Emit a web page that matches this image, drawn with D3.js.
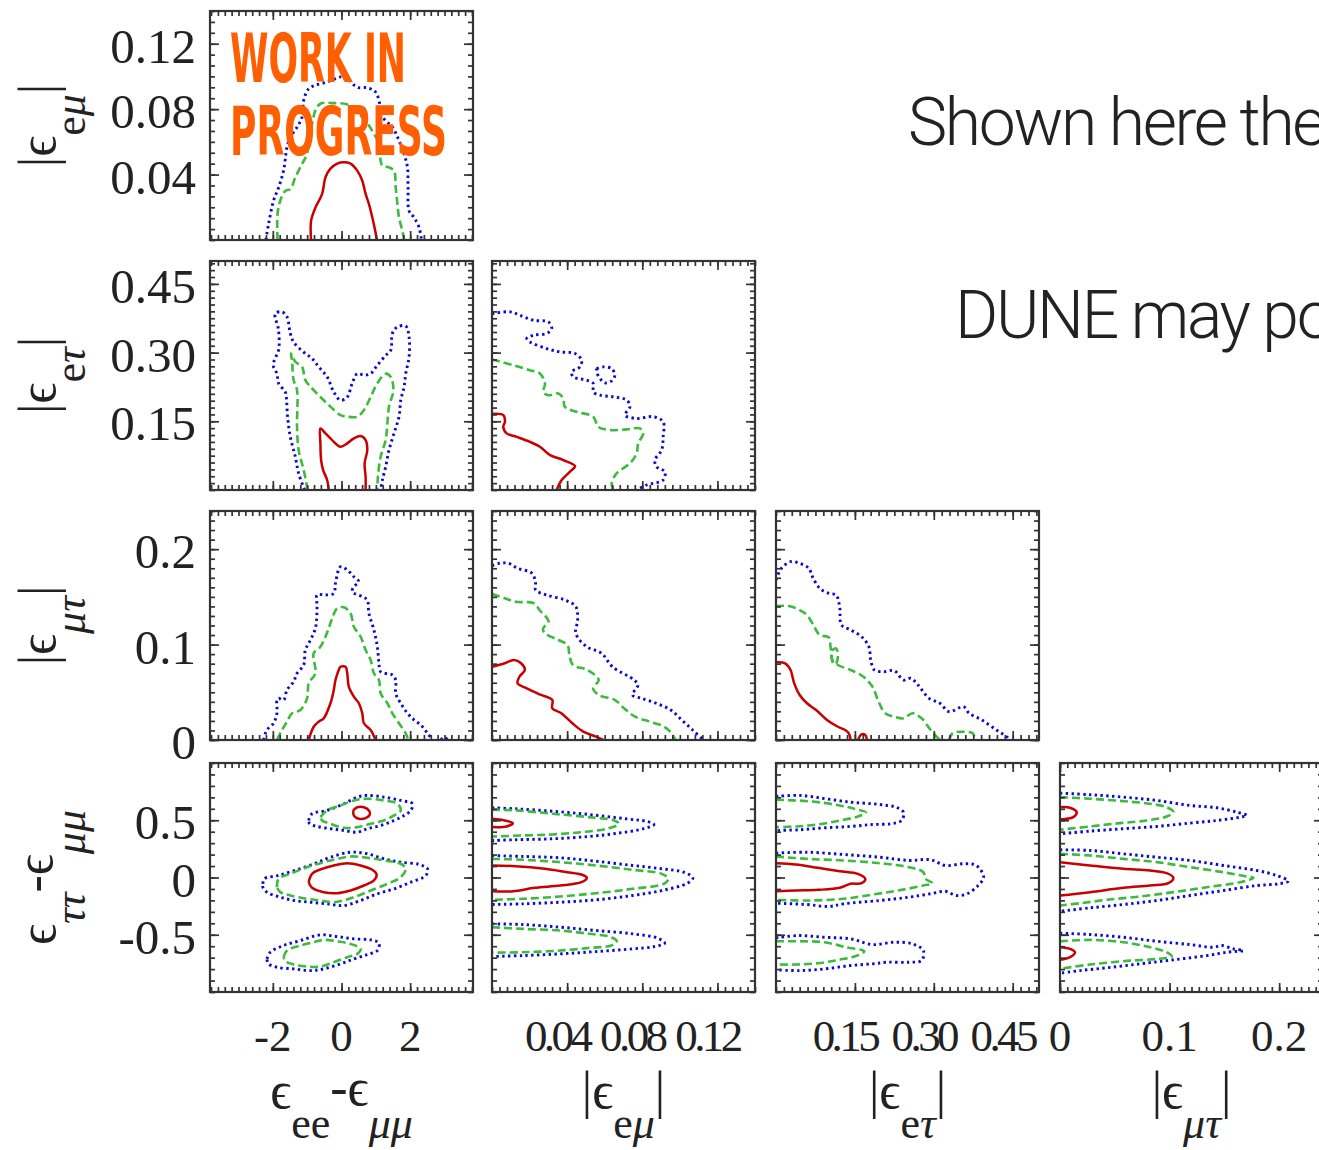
<!DOCTYPE html>
<html>
<head>
<meta charset="utf-8">
<script src="https://cdn.jsdelivr.net/npm/d3@7"></script>
<style>
body { margin: 0; background: #fff; }
svg { display: block; }
.serif { font-family: "Liberation Serif", "DejaVu Serif", serif; fill: #222; }
</style>
</head>
<body>
<script>
// Layout
var width = 1319,
    height = 1150;
var panelW = 263, panelH = 229;
var colLeft = [210, 492, 776, 1060];
var rowTop = [11, 261, 511, 763];

// Axis values
var deeDomain = [-3.83, 3.83], deeTicks = [-2, 0, 2], deeLabels = ['-2', '0', '2'];
var emuDomain = [0, 0.14], emuTicks = [0.04, 0.08, 0.12], emuLabels = ['0.04', '0.08', '0.12'];
var etauDomain = [0, 0.5], etauTicks = [0.15, 0.30, 0.45], etauLabels = ['0.15', '0.30', '0.45'];
var mutauDomain = [0, 0.24], mutauTicks = [0, 0.1, 0.2], mutauLabels = ['0', '0.1', '0.2'];
var dttDomain = [-1, 1], dttTicks = [-0.5, 0, 0.5], dttLabels = ['-0.5', '0', '0.5'];

// Contours: [x, y] in data units
// row 0: |e_emu| vs ee-mumu
var p00Red = [[-0.886,0],[-0.886,0.0117],[-0.76,0.0198],[-0.564,0.0282],[-0.468,0.0383],[-0.322,0.0436],[-0.126,0.0467],[0.067,0.0475],[0.263,0.0467],[0.459,0.0424],[0.605,0.0362],[0.702,0.0282],[0.798,0.0221],[0.898,0.0137],[1.0,0.0037],[1.03,0]];
var p00Green = [[-1.863,0],[-1.863,0.016],[-1.784,0.024],[-1.637,0.030],[-1.491,0.0311],[-1.345,0.0383],[-1.149,0.0465],[-1.003,0.0526],[-0.956,0.0608],[-0.857,0.071],[-0.76,0.0792],[-0.614,0.0833],[-0.225,0.0837],[0.167,0.0829],[0.36,0.0792],[0.556,0.0761],[0.798,0.070],[0.945,0.0649],[1.091,0.0588],[1.14,0.0485],[1.19,0.0454],[1.383,0.0444],[1.529,0.0424],[1.579,0.0321],[1.629,0.0219],[1.675,0.0137],[1.775,0.0055],[1.822,0]];
var p00Blue = [[-2.202,0],[-2.126,0.0096],[-1.98,0.024],[-1.833,0.0321],[-1.687,0.0424],[-1.588,0.0567],[-1.491,0.0628],[-1.295,0.069],[-1.149,0.0751],[-1.102,0.0853],[-0.956,0.0925],[-0.76,0.0946],[-0.418,0.0966],[-0.029,0.0997],[0.167,0.0993],[0.313,0.0956],[0.506,0.0931],[0.751,0.0931],[0.994,0.0904],[1.14,0.0812],[1.237,0.0741],[1.482,0.069],[1.675,0.0608],[1.822,0.0526],[1.921,0.0444],[1.939,0.0321],[1.968,0.0178],[2.114,0.0137],[2.26,0.0076],[2.33,0]];

// row 1: |e_etau|
var p10Red = [[-0.371,0],[-0.418,0.0218],[-0.535,0.0436],[-0.594,0.0654],[-0.614,0.1018],[-0.614,0.1345],[-0.468,0.1236],[-0.272,0.109],[-0.029,0.0944],[0.167,0.1018],[0.36,0.1127],[0.556,0.1177],[0.702,0.109],[0.751,0.0872],[0.673,0.0582],[0.702,0.029],[0.702,0]];
var p10Green = [[-0.985,0],[-1.102,0.0436],[-1.249,0.0872],[-1.295,0.138],[-1.295,0.218],[-1.395,0.24],[-1.442,0.283],[-1.471,0.298],[-1.345,0.28],[-1.149,0.269],[-1.053,0.24],[-0.857,0.222],[-0.614,0.203],[-0.322,0.182],[-0.029,0.1635],[0.167,0.16],[0.459,0.16],[0.652,0.1744],[0.848,0.203],[1.044,0.233],[1.287,0.254],[1.433,0.247],[1.512,0.218],[1.383,0.182],[1.336,0.145],[1.287,0.109],[1.14,0.0726],[1.061,0.029],[1.044,0]];
var p10Blue = [[-1.073,0],[-1.249,0.0364],[-1.345,0.0726],[-1.491,0.116],[-1.57,0.16],[-1.608,0.203],[-1.637,0.214],[-1.833,0.233],[-1.88,0.254],[-1.98,0.269],[-1.959,0.283],[-1.833,0.305],[-1.833,0.349],[-1.93,0.385],[-1.734,0.389],[-1.588,0.378],[-1.491,0.342],[-1.395,0.323],[-1.102,0.301],[-0.857,0.287],[-0.664,0.269],[-0.418,0.247],[-0.225,0.214],[-0.029,0.196],[0.167,0.203],[0.313,0.233],[0.459,0.254],[0.652,0.251],[0.848,0.254],[1.044,0.2725],[1.287,0.294],[1.433,0.305],[1.482,0.342],[1.629,0.356],[1.871,0.358],[1.968,0.334],[1.968,0.291],[1.871,0.254],[1.822,0.225],[1.725,0.196],[1.675,0.16],[1.529,0.1236],[1.383,0.0872],[1.287,0.0508],[1.19,0.0218],[1.14,0]];
var p11Red = [[0,0.166],[0.006,0.1635],[0.0069,0.149],[0.006,0.138],[0.0078,0.1236],[0.0131,0.116],[0.0202,0.105],[0.0255,0.0944],[0.0309,0.0763],[0.0379,0.0654],[0.0442,0.0523],[0.0415,0.0399],[0.0371,0.0218],[0.0344,0]];
var p11Green = [[0,0.285],[0.0113,0.2725],[0.0202,0.2616],[0.0255,0.2544],[0.0282,0.2326],[0.0273,0.2143],[0.03,0.207],[0.0353,0.2108],[0.0379,0.2],[0.0388,0.1816],[0.0451,0.1707],[0.0539,0.16],[0.0566,0.138],[0.0628,0.131],[0.0717,0.1323],[0.0787,0.1345],[0.0805,0.1236],[0.0778,0.1018],[0.077,0.08],[0.0734,0.0582],[0.0663,0.0364],[0.0637,0.0146],[0.0645,0]];
var p11Blue = [[0,0.385],[0.0096,0.389],[0.0149,0.3815],[0.022,0.3706],[0.03,0.367],[0.0318,0.3525],[0.0291,0.3416],[0.022,0.338],[0.0185,0.3307],[0.0202,0.3233],[0.0291,0.3089],[0.0362,0.3015],[0.0442,0.298],[0.0477,0.2834],[0.0468,0.2688],[0.0424,0.2579],[0.0433,0.247],[0.0504,0.2398],[0.0539,0.2326],[0.0539,0.2143],[0.0575,0.207],[0.0645,0.2034],[0.0717,0.1962],[0.0734,0.1816],[0.0708,0.1635],[0.077,0.1563],[0.0858,0.16],[0.0911,0.149],[0.0911,0.1162],[0.0903,0.0872],[0.0867,0.0654],[0.0876,0.0508],[0.092,0.0399],[0.0911,0.0218],[0.0823,0.0109],[0.077,0]];
var p11BlueIsland = [[0.0557,0.265],[0.0592,0.2688],[0.0637,0.265],[0.0654,0.2507],[0.0637,0.2383],[0.0601,0.2339],[0.0575,0.2435],[0.0557,0.2579],[0.0557,0.265]];

// row 2: |e_mutau|
var p20Red = [[-0.956,0],[-0.81,0.0139],[-0.664,0.0192],[-0.518,0.0227],[-0.322,0.0385],[-0.225,0.0524],[-0.175,0.0629],[-0.079,0.0734],[-0.029,0.0768],[0.117,0.0768],[0.167,0.0699],[0.213,0.0559],[0.36,0.0454],[0.506,0.0385],[0.605,0.028],[0.652,0.0175],[0.848,0.0105],[0.994,0]];
var p20Green = [[-1.88,0],[-1.734,0.0105],[-1.588,0.0192],[-1.442,0.028],[-1.199,0.0314],[-1.003,0.0437],[-0.956,0.0594],[-0.76,0.0699],[-0.81,0.0909],[-0.614,0.0978],[-0.468,0.1083],[-0.371,0.1171],[-0.272,0.1275],[-0.126,0.138],[0.067,0.1391],[0.263,0.1328],[0.36,0.1187],[0.556,0.1083],[0.702,0.0943],[0.848,0.0838],[0.944,0.0699],[1.091,0.0629],[1.14,0.0489],[1.336,0.0385],[1.482,0.028],[1.675,0.0175],[1.871,0.007],[1.939,0]];
var p20Blue = [[-2.272,0],[-2.173,0.0105],[-1.98,0.0175],[-1.88,0.028],[-1.88,0.0419],[-1.833,0.0437],[-1.687,0.0419],[-1.588,0.0524],[-1.395,0.0611],[-1.295,0.0699],[-1.102,0.0786],[-1.053,0.0943],[-0.906,0.1048],[-0.76,0.1171],[-0.711,0.1397],[-0.711,0.152],[-0.468,0.152],[-0.225,0.1537],[-0.175,0.1642],[-0.029,0.1816],[0.167,0.1782],[0.36,0.1711],[0.506,0.1659],[0.36,0.1607],[0.313,0.1554],[0.605,0.1502],[0.751,0.1467],[0.798,0.1328],[0.944,0.1153],[1.044,0.0978],[1.091,0.0804],[1.14,0.0716],[1.482,0.0681],[1.579,0.0629],[1.579,0.0489],[1.725,0.0385],[1.921,0.028],[2.114,0.021],[2.31,0.0157],[2.506,0.007],[2.652,0]];
var p20BlueTail = [[2.895,0],[2.991,0.003],[3.09,0]];
var p21Red = [[0,0.0768],[0.0068,0.0804],[0.0116,0.0838],[0.0155,0.0804],[0.0175,0.0734],[0.0146,0.0663],[0.0136,0.0594],[0.0185,0.0542],[0.0262,0.0472],[0.0321,0.0419],[0.0321,0.0332],[0.0369,0.028],[0.0428,0.0175],[0.0486,0.0087],[0.0554,0.0035],[0.0593,0]];
var p21Green = [[0,0.153],[0.0068,0.1485],[0.0126,0.1449],[0.0223,0.1433],[0.0253,0.1362],[0.0301,0.124],[0.0272,0.117],[0.0281,0.1118],[0.0354,0.1048],[0.0402,0.0996],[0.0412,0.0891],[0.0431,0.0786],[0.0509,0.0734],[0.0568,0.0629],[0.0538,0.0542],[0.0568,0.0472],[0.0655,0.0419],[0.0703,0.0332],[0.0762,0.0244],[0.084,0.0192],[0.0917,0.0139],[0.0956,0.007],[0.0976,0]];
var p21Blue = [[0,0.1827],[0.0039,0.1852],[0.0087,0.1852],[0.0135,0.18],[0.0213,0.1747],[0.0232,0.1642],[0.0232,0.1572],[0.029,0.152],[0.0388,0.1467],[0.0446,0.1397],[0.0456,0.1258],[0.0446,0.1118],[0.0504,0.0978],[0.0583,0.0909],[0.0641,0.0768],[0.0757,0.0629],[0.0777,0.0576],[0.0747,0.0472],[0.0796,0.0437],[0.0874,0.0385],[0.0952,0.0314],[0.101,0.021],[0.1068,0.0105],[0.1126,0]];
var p22Red = [[0,0.0814],[0.0173,0.0804],[0.0277,0.0734],[0.0346,0.0594],[0.045,0.0472],[0.0589,0.0385],[0.0762,0.0314],[0.0969,0.021],[0.1176,0.0139],[0.1315,0.0105],[0.1385,0.007],[0.1419,0]];
var p22RedTail = [[0.1558,0],[0.1626,0.006],[0.1697,0.0052],[0.1731,0]];
var p22Green = [[0,0.1404],[0.0243,0.1404],[0.045,0.1362],[0.0589,0.131],[0.0728,0.1187],[0.083,0.11],[0.1003,0.1076],[0.1037,0.0978],[0.1072,0.0838],[0.1176,0.0786],[0.1419,0.0734],[0.1661,0.0663],[0.1834,0.0559],[0.1938,0.0419],[0.2077,0.028],[0.225,0.0244],[0.2423,0.0227],[0.2595,0.028],[0.2768,0.0227],[0.2941,0.0105],[0.3116,0]];
var p22GreenIsland = [[0.1072,0.0943],[0.1142,0.0961],[0.1176,0.0873],[0.1142,0.0804],[0.1093,0.0796],[0.1058,0.0873],[0.1072,0.0943]];
var p22GreenTail = [[0.3289,0],[0.3357,0.007],[0.3566,0.0087],[0.3739,0.007],[0.3787,0]];
var p22Blue = [[0,0.1677],[0.0105,0.18],[0.0277,0.1869],[0.045,0.1852],[0.0623,0.18],[0.0694,0.1711],[0.083,0.159],[0.1003,0.1537],[0.1142,0.152],[0.121,0.1397],[0.1246,0.1205],[0.1419,0.1153],[0.1626,0.1083],[0.1765,0.0978],[0.1801,0.0838],[0.187,0.0734],[0.2043,0.0716],[0.225,0.0726],[0.2423,0.0629],[0.2561,0.0647],[0.27,0.0576],[0.2909,0.0437],[0.3116,0.0385],[0.3289,0.0297],[0.3566,0.0349],[0.3671,0.028],[0.3912,0.021],[0.419,0.0105],[0.4397,0.0028],[0.4431,0]];

// row 3: e_tautau - e_mumu (three separate islands)
var p30RedTop = [[0.342,0.586],[0.459,0.614],[0.652,0.614],[0.798,0.586],[0.827,0.551],[0.702,0.518],[0.506,0.513],[0.36,0.541],[0.342,0.586]];
var p30RedMid = [[-0.956,-0.041],[-0.857,0.032],[-0.564,0.076],[-0.225,0.105],[0.167,0.125],[0.556,0.105],[0.898,0.067],[1.023,0.026],[0.944,-0.026],[0.652,-0.07],[0.263,-0.114],[-0.126,-0.137],[-0.518,-0.128],[-0.857,-0.09],[-0.956,-0.041]];
var p30GreenTop = [[-0.614,0.527],[-0.418,0.586],[-0.029,0.629],[0.36,0.673],[0.751,0.688],[1.237,0.673],[1.629,0.644],[1.725,0.586],[1.529,0.542],[1.237,0.498],[0.848,0.469],[0.459,0.44],[0.067,0.434],[-0.322,0.469],[-0.564,0.498],[-0.614,0.527]];
var p30GreenMid = [[-1.88,-0.085],[-1.833,-0.011],[-1.491,0.032],[-1.003,0.09],[-0.518,0.134],[-0.126,0.163],[0.263,0.184],[0.751,0.172],[1.237,0.149],[1.725,0.12],[1.871,0.076],[1.725,0.003],[1.336,-0.055],[0.848,-0.114],[0.36,-0.172],[-0.225,-0.216],[-0.614,-0.201],[-1.003,-0.186],[-1.491,-0.157],[-1.784,-0.128],[-1.88,-0.085]];
var p30GreenLow = [[-1.687,-0.696],[-1.588,-0.638],[-1.199,-0.594],[-0.81,-0.565],[-0.518,-0.545],[-0.126,-0.557],[0.263,-0.58],[0.556,-0.623],[0.459,-0.667],[0.167,-0.696],[-0.225,-0.74],[-0.614,-0.778],[-1.003,-0.778],[-1.395,-0.76],[-1.637,-0.731],[-1.687,-0.696]];
var p30BlueTop = [[-0.956,0.498],[-0.857,0.557],[-0.418,0.586],[0.067,0.644],[0.459,0.702],[0.751,0.717],[1.237,0.702],[1.725,0.673],[2.067,0.644],[2.018,0.586],[1.822,0.542],[1.529,0.498],[1.14,0.454],[0.751,0.426],[0.459,0.396],[0.067,0.411],[-0.322,0.426],[-0.711,0.446],[-0.927,0.469],[-0.956,0.498]];
var p30BlueMid = [[-2.29,-0.055],[-2.243,-0.011],[-1.86,0.017],[-1.374,0.061],[-0.79,0.12],[-0.322,0.177],[0.263,0.221],[0.751,0.207],[1.237,0.163],[1.725,0.134],[2.26,0.114],[2.506,0.076],[2.456,0.017],[2.018,-0.041],[1.529,-0.099],[1.044,-0.142],[0.556,-0.201],[0.067,-0.245],[-0.418,-0.23],[-0.906,-0.216],[-1.374,-0.201],[-1.784,-0.172],[-2.173,-0.128],[-2.29,-0.085],[-2.29,-0.055]];
var p30BlueLow = [[-2.173,-0.711],[-2.076,-0.653],[-1.687,-0.594],[-1.199,-0.551],[-0.614,-0.501],[-0.126,-0.516],[0.36,-0.536],[0.848,-0.545],[1.091,-0.574],[1.044,-0.638],[0.751,-0.673],[0.36,-0.711],[-0.029,-0.754],[-0.518,-0.798],[-0.906,-0.813],[-1.395,-0.798],[-1.88,-0.784],[-2.126,-0.754],[-2.173,-0.711]];
var p31RedTop = [[0,0.513],[0.0068,0.498],[0.0111,0.475],[0.0078,0.446],[0,0.44]];
var p31RedMid = [[0,0.105],[0.0126,0.099],[0.0282,0.076],[0.04,0.046],[0.0476,0.026],[0.0505,-0.003],[0.0476,-0.041],[0.0363,-0.07],[0.0227,-0.09],[0.0112,-0.12],[0,-0.12]];
var p31GreenTop = [[0,0.592],[0.0126,0.586],[0.0321,0.557],[0.0515,0.527],[0.0651,0.498],[0.0675,0.469],[0.0613,0.426],[0.0476,0.396],[0.0321,0.376],[0.0165,0.367],[0,0.358]];
var p31GreenMid = [[0,0.163],[0.0165,0.155],[0.0363,0.134],[0.0554,0.105],[0.0749,0.067],[0.0904,0.032],[0.0939,-0.011],[0.0914,-0.055],[0.0749,-0.099],[0.0554,-0.137],[0.0363,-0.166],[0.0165,-0.186],[0,-0.195]];
var p31GreenLow = [[0,-0.434],[0.0165,-0.449],[0.0363,-0.463],[0.0518,-0.492],[0.0635,-0.521],[0.0664,-0.557],[0.0635,-0.594],[0.0518,-0.615],[0.0363,-0.638],[0.0165,-0.653],[0,-0.656]];
var p31BlueTop = [[0,0.609],[0.0126,0.6],[0.0321,0.579],[0.0515,0.551],[0.071,0.513],[0.0826,0.489],[0.0862,0.463],[0.0807,0.426],[0.067,0.387],[0.0515,0.358],[0.0321,0.338],[0.0126,0.33],[0,0.323]];
var p31BlueMid = [[0,0.192],[0.0165,0.184],[0.0363,0.172],[0.0554,0.142],[0.0749,0.105],[0.0904,0.076],[0.102,0.046],[0.1069,-0.003],[0.104,-0.05],[0.0904,-0.114],[0.0749,-0.157],[0.0554,-0.195],[0.0363,-0.216],[0.0165,-0.23],[0,-0.236]];
var p31BlueLow = [[0,-0.405],[0.0165,-0.411],[0.0363,-0.434],[0.0554,-0.463],[0.0749,-0.492],[0.0884,-0.531],[0.0919,-0.574],[0.0864,-0.603],[0.0749,-0.623],[0.0554,-0.647],[0.0363,-0.667],[0.0165,-0.682],[0,-0.69]];
var p32RedMid = [[0,0.125],[0.038,0.114],[0.0796,0.085],[0.1212,0.055],[0.1558,0.032],[0.1697,-0.011],[0.1626,-0.05],[0.1419,-0.055],[0.1212,-0.09],[0.0796,-0.108],[0.038,-0.114],[0,-0.12]];
var p32GreenTop = [[0,0.679],[0.038,0.673],[0.0796,0.658],[0.1212,0.629],[0.1488,0.6],[0.171,0.568],[0.1558,0.533],[0.1212,0.498],[0.0796,0.463],[0.038,0.446],[0,0.44]];
var p32GreenMid = [[0,0.184],[0.0589,0.163],[0.1281,0.149],[0.1972,0.125],[0.2527,0.09],[0.2802,0.046],[0.2839,-0.011],[0.2977,-0.05],[0.2802,-0.07],[0.2318,-0.114],[0.1834,-0.149],[0.1281,-0.186],[0.0589,-0.201],[0,-0.195]];
var p32GreenLow = [[0,-0.557],[0.0431,-0.557],[0.0916,-0.565],[0.133,-0.609],[0.1678,-0.644],[0.1539,-0.682],[0.1193,-0.719],[0.0796,-0.749],[0.038,-0.76],[0,-0.76]];
var p32BlueTop = [[0,0.708],[0.045,0.717],[0.0935,0.688],[0.1419,0.658],[0.1834,0.644],[0.2111,0.629],[0.2284,0.614],[0.2423,0.571],[0.2388,0.498],[0.218,0.469],[0.1834,0.463],[0.1419,0.446],[0.0935,0.434],[0.045,0.417],[0,0.411]];
var p32BlueMid = [[0,0.213],[0.0589,0.221],[0.1281,0.201],[0.1972,0.177],[0.2527,0.149],[0.2941,0.155],[0.3219,0.105],[0.3566,0.12],[0.3808,0.105],[0.3947,0.003],[0.3842,-0.07],[0.3635,-0.142],[0.3426,-0.157],[0.3219,-0.12],[0.2941,-0.142],[0.2527,-0.172],[0.1972,-0.201],[0.1281,-0.23],[0.1003,-0.253],[0.0589,-0.236],[0,-0.225]];
var p32BlueLow = [[0,-0.527],[0.0431,-0.507],[0.0916,-0.522],[0.1419,-0.536],[0.1834,-0.586],[0.225,-0.565],[0.2595,-0.58],[0.2802,-0.638],[0.2768,-0.725],[0.2527,-0.74],[0.2111,-0.74],[0.1834,-0.754],[0.1419,-0.769],[0.0935,-0.798],[0.045,-0.813],[0,-0.807]];
var p33RedTop = [[0,0.614],[0.0091,0.609],[0.0152,0.571],[0.0121,0.527],[0,0.507]];
var p33RedMid = [[0,0.134],[0.0274,0.105],[0.0578,0.076],[0.0822,0.061],[0.0974,0.038],[0.1035,-0.003],[0.0989,-0.05],[0.0822,-0.07],[0.0578,-0.09],[0.0274,-0.128],[0,-0.157]];
var p33RedLow = [[0,-0.609],[0.0091,-0.623],[0.0137,-0.653],[0.0091,-0.696],[0,-0.719]];
var p33GreenTop = [[0,0.702],[0.0274,0.688],[0.0578,0.667],[0.0822,0.644],[0.0974,0.614],[0.1035,0.571],[0.0974,0.533],[0.0791,0.498],[0.0548,0.475],[0.0274,0.446],[0,0.417]];
var p33GreenMid = [[0,0.207],[0.0274,0.192],[0.0578,0.163],[0.0883,0.134],[0.1187,0.09],[0.1491,0.046],[0.1704,0.009],[0.1765,-0.003],[0.1644,-0.041],[0.1339,-0.085],[0.1035,-0.128],[0.073,-0.166],[0.0426,-0.195],[0.0183,-0.225],[0,-0.245]];
var p33GreenLow = [[0,-0.557],[0.0274,-0.545],[0.0578,-0.565],[0.0822,-0.609],[0.0974,-0.653],[0.102,-0.69],[0.0883,-0.711],[0.0578,-0.731],[0.0274,-0.76],[0,-0.798]];
var p33BlueTop = [[0,0.737],[0.0274,0.723],[0.0578,0.702],[0.0883,0.673],[0.1187,0.629],[0.1431,0.609],[0.1613,0.571],[0.1705,0.542],[0.1644,0.527],[0.1431,0.498],[0.1187,0.475],[0.0883,0.446],[0.0578,0.426],[0.0274,0.405],[0,0.382]];
var p33BlueMid = [[0,0.242],[0.0274,0.236],[0.0578,0.207],[0.0883,0.177],[0.1187,0.149],[0.1491,0.105],[0.1796,0.061],[0.1979,0.017],[0.2085,-0.032],[0.1994,-0.055],[0.1796,-0.07],[0.1491,-0.114],[0.1187,-0.157],[0.0883,-0.201],[0.0578,-0.236],[0.0274,-0.265],[0,-0.295]];
var p33BlueLow = [[0,-0.487],[0.0274,-0.498],[0.0578,-0.522],[0.0883,-0.557],[0.1187,-0.586],[0.14,-0.609],[0.1476,-0.594],[0.1583,-0.623],[0.1674,-0.638],[0.1522,-0.653],[0.1339,-0.682],[0.1035,-0.719],[0.073,-0.754],[0.0426,-0.789],[0.0183,-0.813],[0,-0.836]];

// Axis setup for each column (x) and row (y)
var xAxes = [
  {domain: deeDomain, ticks: deeTicks, labels: deeLabels, minor: 0.2, condensed: false},
  {domain: emuDomain, ticks: emuTicks, labels: emuLabels, minor: 0.004, condensed: true},
  {domain: etauDomain, ticks: etauTicks, labels: etauLabels, minor: 0.015, condensed: true},
  {domain: mutauDomain, ticks: mutauTicks, labels: mutauLabels, minor: 0.1 / 15, condensed: false}
];
var yAxes = [
  {domain: emuDomain, ticks: emuTicks, labels: emuLabels, minor: 0.04 / 6},
  {domain: etauDomain, ticks: etauTicks, labels: etauLabels, minor: 0.015},
  {domain: mutauDomain, ticks: mutauTicks, labels: mutauLabels, minor: 0.01},
  {domain: dttDomain, ticks: dttTicks, labels: dttLabels, minor: 0.1}
];

var panels = [
  {row: 0, col: 0, red: [p00Red], green: [p00Green], blue: [p00Blue]},
  {row: 1, col: 0, red: [p10Red], green: [p10Green], blue: [p10Blue]},
  {row: 1, col: 1, red: [p11Red], green: [p11Green], blue: [p11Blue, p11BlueIsland]},
  {row: 2, col: 0, red: [p20Red], green: [p20Green], blue: [p20Blue, p20BlueTail]},
  {row: 2, col: 1, red: [p21Red], green: [p21Green], blue: [p21Blue]},
  {row: 2, col: 2, red: [p22Red, p22RedTail], green: [p22Green, p22GreenIsland, p22GreenTail], blue: [p22Blue]},
  {row: 3, col: 0, red: [p30RedTop, p30RedMid], green: [p30GreenTop, p30GreenMid, p30GreenLow], blue: [p30BlueTop, p30BlueMid, p30BlueLow]},
  {row: 3, col: 1, red: [p31RedTop, p31RedMid], green: [p31GreenTop, p31GreenMid, p31GreenLow], blue: [p31BlueTop, p31BlueMid, p31BlueLow]},
  {row: 3, col: 2, red: [p32RedMid], green: [p32GreenTop, p32GreenMid, p32GreenLow], blue: [p32BlueTop, p32BlueMid, p32BlueLow]},
  {row: 3, col: 3, red: [p33RedTop, p33RedMid, p33RedLow], green: [p33GreenTop, p33GreenMid, p33GreenLow], blue: [p33BlueTop, p33BlueMid, p33BlueLow]}
];

// Confidence levels: 1, 2, 3 sigma
var levels = [
  {key: 'blue', color: '#0a0acc', dash: '2.4,3.4', width: 2.9},
  {key: 'green', color: '#3dbb3d', dash: '8,4', width: 2.6},
  {key: 'red', color: '#c80000', dash: null, width: 2.5}
];

var svg = d3.select('body').append('svg')
    .attr('width', width)
    .attr('height', height);

function minorValues(domain, step) {
    return d3.range(Math.ceil(domain[0] / step - 1e-6), Math.floor(domain[1] / step + 1e-6) + 1)
        .map(function(i) { return i * step; });
}

function tickAxis(g, axis, vals, size, tx, ty) {
    g.append('g')
        .attr('transform', 'translate(' + tx + ',' + ty + ')')
        .call(axis.tickValues(vals).tickSize(-size).tickSizeOuter(0).tickFormat(''))
        .call(function(a) { a.select('.domain').remove(); })
        .selectAll('line')
            .attr('stroke', '#333')
            .attr('stroke-width', 1.7);
}

function drawPanel(p, i) {
    var xa = xAxes[p.col], ya = yAxes[p.row];
    var x = d3.scaleLinear().domain(xa.domain).range([0, panelW]);
    var y = d3.scaleLinear().domain(ya.domain).range([panelH, 0]);

    var g = svg.append('g')
        .attr('transform', 'translate(' + colLeft[p.col] + ',' + rowTop[p.row] + ')');

    g.append('clipPath').attr('id', 'clip' + i)
      .append('rect').attr('width', panelW).attr('height', panelH);

    var line = d3.line()
        .x(function(d) { return x(d[0]); })
        .y(function(d) { return y(d[1]); })
        .curve(d3.curveCatmullRom.alpha(0.5));

    var body = g.append('g').attr('clip-path', 'url(#clip' + i + ')');
    levels.forEach(function(lv) {
        body.selectAll('path.' + lv.key)
            .data(p[lv.key])
          .enter().append('path')
            .attr('class', lv.key)
            .attr('d', line)
            .attr('fill', 'none')
            .attr('stroke', lv.color)
            .attr('stroke-width', lv.width)
            .attr('stroke-dasharray', lv.dash)
            .attr('stroke-linejoin', 'round');
    });

    // ticks on all four sides, pointing in
    var xm = minorValues(xa.domain, xa.minor), ym = minorValues(ya.domain, ya.minor);
    tickAxis(g, d3.axisBottom(x), xm, 5, 0, panelH);
    tickAxis(g, d3.axisTop(x), xm, 5, 0, 0);
    tickAxis(g, d3.axisLeft(y), ym, 5, 0, 0);
    tickAxis(g, d3.axisRight(y), ym, 5, panelW, 0);
    tickAxis(g, d3.axisBottom(x), xa.ticks, 9, 0, panelH);
    tickAxis(g, d3.axisTop(x), xa.ticks, 9, 0, 0);
    tickAxis(g, d3.axisLeft(y), ya.ticks, 9, 0, 0);
    tickAxis(g, d3.axisRight(y), ya.ticks, 9, panelW, 0);

    g.append('rect')
        .attr('width', panelW).attr('height', panelH)
        .attr('fill', 'none').attr('stroke', '#333').attr('stroke-width', 2.2);

    // tick labels on the outer edges
    if (p.col === 0) {
        g.selectAll('text.ylab')
            .data(ya.ticks)
          .enter().append('text')
            .attr('class', 'ylab serif')
            .attr('x', -14)
            .attr('y', function(d) { return y(d) + 19; })
            .attr('text-anchor', 'end')
            .style('font-size', '49px')
            .text(function(d, j) { return ya.labels[j]; });
    }
    if (p.row === 3) {
        g.selectAll('text.xlab')
            .data(xa.ticks)
          .enter().append('text')
            .attr('class', 'xlab serif')
            .attr('x', function(d) { return x(d); })
            .attr('dx', xa.condensed ? -10 : 0)
            .attr('y', panelH + 59)
            .attr('text-anchor', 'middle')
            .style('font-size', '45px')
            .style('letter-spacing', xa.condensed ? '-3.6px' : null)
            .text(function(d, j) { return xa.labels[j]; });
    }
}

panels.forEach(drawPanel);

// Axis titles
var subDrop = 30;
function absTitle(t, sub, subItalic) {
    t.append('tspan').text('|\u03f5');
    var s = t.append('tspan').attr('dy', subDrop).style('font-size', '44px');
    sub.forEach(function(ch, k) {
        s.append('tspan').text(ch).style('font-style', subItalic[k] ? 'italic' : 'normal');
    });
    t.append('tspan').attr('dy', -subDrop).text('|');
}
function diffTitle(t, subA, subB, italicA) {
    t.append('tspan').text('\u03f5');
    t.append('tspan').attr('dy', subDrop).style('font-size', '44px')
        .style('font-style', italicA ? 'italic' : 'normal').text(subA);
    t.append('tspan').attr('dy', -subDrop - 3).text('-\u03f5');
    t.append('tspan').attr('dy', subDrop + 3).style('font-size', '44px')
        .style('font-style', 'italic').text(subB);
}

var titleSpecs = [
    function(t) { diffTitle(t, 'ee', '\u03bc\u03bc', false); },
    function(t) { absTitle(t, ['e', '\u03bc'], [false, true]); },
    function(t) { absTitle(t, ['e', '\u03c4'], [false, true]); },
    function(t) { absTitle(t, ['\u03bc', '\u03c4'], [true, true]); }
];
var rowTitleSpecs = [
    titleSpecs[1],
    titleSpecs[2],
    titleSpecs[3],
    function(t) { diffTitle(t, '\u03c4\u03c4', '\u03bc\u03bc', true); }
];

colLeft.forEach(function(cx, c) {
    var t = svg.append('text').attr('class', 'serif')
        .attr('x', cx + panelW / 2).attr('y', 1108)
        .attr('text-anchor', 'middle')
        .style('font-size', '52px');
    titleSpecs[c](t);
});
rowTop.forEach(function(ry, r) {
    var t = svg.append('text').attr('class', 'serif')
        .attr('transform', 'translate(55,' + (ry + panelH / 2) + ') rotate(-90)')
        .attr('text-anchor', 'middle')
        .style('font-size', '52px');
    rowTitleSpecs[r](t);
});

// Watermark over the first panel
svg.append('text')
    .attr('x', 230).attr('y', 82)
    .attr('textLength', 176).attr('lengthAdjust', 'spacingAndGlyphs')
    .style('font-family', '"Liberation Sans Narrow", "DejaVu Sans Condensed", sans-serif')
    .style('font-weight', 'bold').style('font-size', '68px')
    .attr('fill', '#ff5f00')
    .text('WORK IN');
svg.append('text')
    .attr('x', 230).attr('y', 155)
    .attr('textLength', 217).attr('lengthAdjust', 'spacingAndGlyphs')
    .style('font-family', '"Liberation Sans Narrow", "DejaVu Sans Condensed", sans-serif')
    .style('font-weight', 'bold').style('font-size', '68px')
    .attr('fill', '#ff5f00')
    .text('PROGRESS');

// Slide text on the right (runs off the page, as in the source)
svg.append('text')
    .attr('x', 908).attr('y', 145)
    .style('font-family', 'Roboto, "Open Sans", sans-serif')
    .style('font-weight', 300).style('font-size', '66px')
    .style('letter-spacing', '-2.3px')
    .attr('fill', '#222')
    .text('Shown here the');
svg.append('text')
    .attr('x', 955).attr('y', 338)
    .style('font-family', 'Roboto, "Open Sans", sans-serif')
    .style('font-weight', 300).style('font-size', '66px')
    .style('letter-spacing', '-2.3px')
    .attr('fill', '#222')
    .text('DUNE may po');
</script>
</body>
</html>
